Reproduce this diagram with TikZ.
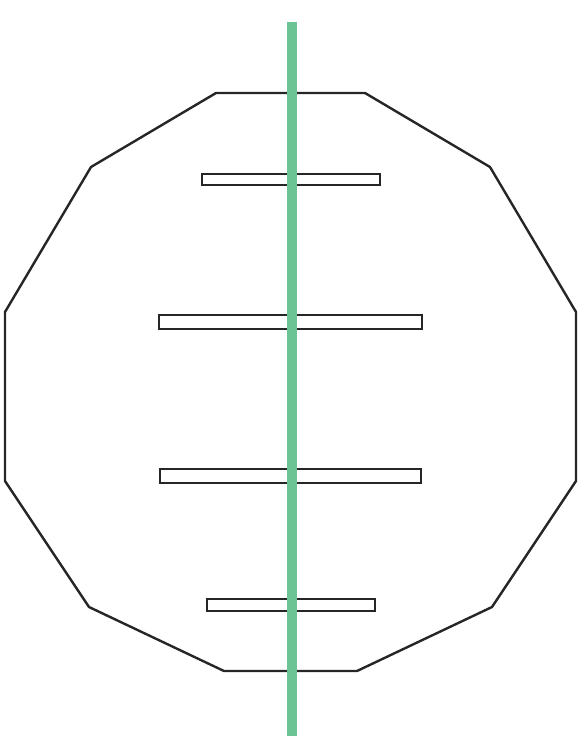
\documentclass[tikz,border=0pt]{standalone}
\usepackage{tikz}
\usepackage{xcolor}
\definecolor{axisgreen}{RGB}{106,196,148}
\tikzset{
  outline/.style={draw=black!85, line width=2.4pt, line join=miter},
  plate/.style={draw=black!85, line width=2.2pt, fill=white},
}

\begin{document}
\begin{tikzpicture}[x=1pt,y=-1pt]
  \useasboundingbox (0,0) rectangle (584,740);
  % twelve sided outline
  \draw[outline] (216,93) -- (365,93) -- (490,167) -- (576,312) -- (576,481)
    -- (492,607) -- (357,671) -- (224,671) -- (89,607) -- (5,481)
    -- (5,312) -- (91,167) -- cycle;
  % plates
  \draw[plate] (202,174) rectangle (380,185);
  \draw[plate] (159,315) rectangle (422,329);
  \draw[plate] (160,469) rectangle (421,483);
  \draw[plate] (207,599) rectangle (375,611);
  % axis
  \fill[axisgreen] (287,22) rectangle (297,736);
\end{tikzpicture}
\end{document}
